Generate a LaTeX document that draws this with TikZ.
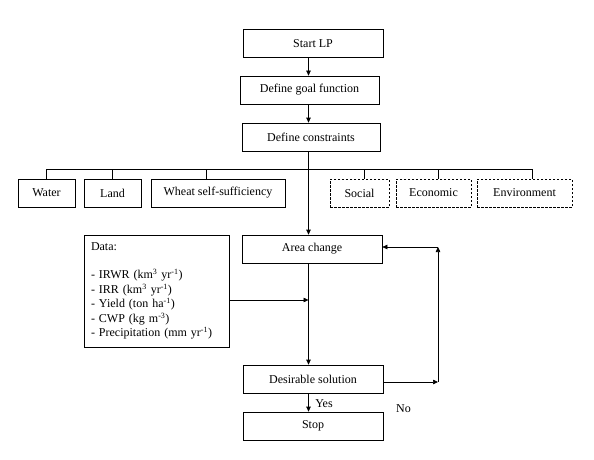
\documentclass[tikz,border=0pt]{standalone}
\usepackage{fontspec}
\setmainfont{Liberation Serif}
\usetikzlibrary{arrows.meta}
\begin{document}
\begin{tikzpicture}[x=1pt,y=-1pt,
  box/.style={draw, line width=0.7pt, minimum height=28pt, inner sep=0pt, font=\fontsize{12}{14.5}\selectfont},
  dbox/.style={box, dash pattern=on 2.5pt off 1.5pt},
  ln/.style={line width=0.7pt},
  arr/.style={ln, -{Triangle[length=5pt,width=4.5pt]}},
  lbl/.style={font=\fontsize{12}{14.5}\selectfont, inner sep=0pt}]
\useasboundingbox (0,0) rectangle (594,460);
\coordinate (axis) at (308.5,0);
\coordinate (bus) at (0,169);
\node[box, minimum width=140pt] (start) at (313,43.5) {Start LP};
\node[box, minimum width=139pt] (goal) at (309.5,90) {Define goal function};
\node[box, minimum width=138pt] (cons) at (311,137) {Define constraints};
\node[box, minimum width=57pt] (water) at (46.5,193) {Water};
\node[box, minimum width=57pt] (land) at (112.5,193) {Land};
\node[box, minimum width=134pt] (wheat) at (218,193) {Wheat self-sufficiency};
\node[dbox, minimum width=59pt] (social) at (359.5,193) {Social};
\node[dbox, minimum width=75pt] (econ) at (433.5,193) {Economic};
\node[dbox, minimum width=95pt] (env) at (524.5,193) {Environment};
\node[box, minimum width=140pt] (area) at (312,249) {Area change};
\node[box, minimum width=145pt, minimum height=112pt, text width=131pt, align=left] (data) at (156.5,291)
  {Data:\\[14pt]
   - IRWR (km\textsuperscript{3} yr\textsuperscript{-1})\\
   - IRR (km\textsuperscript{3} yr\textsuperscript{-1})\\
   - Yield (ton ha\textsuperscript{-1})\\
   - CWP (kg m\textsuperscript{-3})\\
   - Precipitation (mm yr\textsuperscript{-1})};
\node[box, minimum width=140pt] (des) at (313,379) {Desirable solution};
\node[box, minimum width=140pt] (stop) at (313,426) {Stop};
\node[lbl] (yes) at (324,404) {Yes};
\node[lbl] (no) at (403.5,409) {No};
% connectors
\draw[arr] (start.south -| axis) -- (goal.north -| axis);
\draw[arr] (goal.south -| axis) -- (cons.north -| axis);
\draw[arr] (cons.south -| axis) -- (area.north -| axis);
\draw[ln] (water.north |- bus) -- ([xshift=7.5pt]env.north |- bus);
\draw[ln] (water.north) -- (water.north |- bus);
\draw[ln] (land.north) -- (land.north |- bus);
\draw[ln] ([xshift=-12pt]wheat.north) -- ([xshift=-12pt]wheat.north |- bus);
\draw[ln] ([xshift=4.5pt]social.north) -- ([xshift=4.5pt]social.north |- bus);
\draw[ln] ([xshift=4.5pt]econ.north) -- ([xshift=4.5pt]econ.north |- bus);
\draw[ln] ([xshift=7.5pt]env.north) -- ([xshift=7.5pt]env.north |- bus);
\coordinate (dj) at (308.5,300);
\draw[arr] (data.east |- dj) -- (dj);
\draw[arr] (area.south -| axis) -- (des.north -| axis);
\draw[arr] (des.south -| axis) -- (stop.north -| axis);
\coordinate (fb) at (438,382);
\coordinate (ft) at (438,247);
\draw[arr] (des.east |- fb) -- (fb);
\draw[arr] (fb) -- (ft);
\draw[arr] (ft) -- (area.east |- ft);
\end{tikzpicture}
\end{document}
